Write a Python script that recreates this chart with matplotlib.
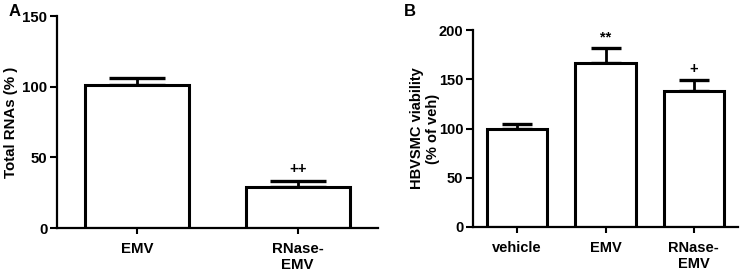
import matplotlib.pyplot as plt

plt.rcParams['font.family'] = ['Liberation Sans', 'DejaVu Sans']
plt.rcParams['font.weight'] = 'bold'

# panel A data
a_groups = ['EMV', 'RNase-\nEMV']
a_means = [101, 29]
a_err = [5, 4.5]
a_marks = ['', '++']

# panel B data
b_groups = ['vehicle', 'EMV', 'RNase-\nEMV']
b_means = [100, 167, 138]
b_err = [4.5, 14.5, 11]
b_marks = ['', '**', '+']

fig = plt.figure(figsize=(7.43, 2.74), dpi=100)


def panel(ax, groups, means, errs, marks, width, cap, ymax, yticks, ylabel, fs):
    x = list(range(len(groups)))
    ax.bar(x, means, width=width, color='white', edgecolor='black', linewidth=2.2, zorder=2)
    ax.errorbar(x, means, yerr=[[0] * len(errs), errs], fmt='none', ecolor='black',
                elinewidth=2.0, capsize=cap, capthick=2.4, zorder=1)
    for xi, m, e, s in zip(x, means, errs, marks):
        if s:
            ax.text(xi, m + e + ymax * 0.02, s, ha='center', va='bottom',
                    fontsize=fs, fontweight='bold')
    ax.set_xlim(-0.5, len(groups) - 0.5)
    ax.set_ylim(0, ymax)
    ax.set_yticks(yticks)
    ax.set_xticks(x)
    ax.set_xticklabels(groups, fontsize=fs, fontweight='bold')
    ax.tick_params(axis='y', labelsize=fs, width=1.5, length=5, pad=2)
    ax.tick_params(axis='x', width=1.5, length=4, pad=6)
    for lab in ax.get_yticklabels():
        lab.set_fontweight('bold')
    ax.spines['top'].set_visible(False)
    ax.spines['right'].set_visible(False)
    ax.spines['left'].set_linewidth(1.6)
    ax.spines['bottom'].set_linewidth(1.6)
    ax.set_ylabel(ylabel, fontsize=fs, fontweight='bold')


ax1 = fig.add_axes([57 / 743, 1 - 228 / 274, 321 / 743, 212 / 274])
panel(ax1, a_groups, a_means, a_err, a_marks, 0.65, 20, 150, [0, 50, 100, 150],
      'Total RNAs (% )', 10.8)
ax1.yaxis.set_label_coords(-0.12, 0.5)

ax2 = fig.add_axes([473 / 743, 1 - 227 / 274, 265 / 743, 197 / 274])
panel(ax2, b_groups, b_means, b_err, b_marks, 0.68, 11, 200, [0, 50, 100, 150, 200],
      'HBVSMC viability\n(% of veh)', 10.5)
ax2.yaxis.set_label_coords(-0.125, 0.5)

fig.text(9 / 743, 1 - 11 / 274, 'A', fontsize=12, fontweight='bold', va='center')
fig.text(404 / 743, 1 - 12 / 274, 'B', fontsize=12, fontweight='bold', va='center')

plt.savefig('out.png', dpi=100)
